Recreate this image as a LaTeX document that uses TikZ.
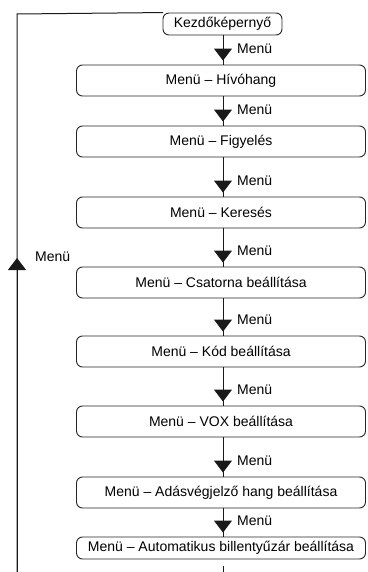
\documentclass[tikz,border=0pt]{standalone}
\usepackage{fontspec}
\setmainfont{Liberation Sans}
\usetikzlibrary{arrows.meta,calc}
\begin{document}
\begin{tikzpicture}[x=1pt,y=-1pt,
  box/.style={draw=black!85,line width=0.9pt,rounded corners=6pt,minimum width=289pt,minimum height=31pt,inner sep=0pt,font=\fontsize{14}{16}\selectfont},
  conn/.style={draw=black!90,line width=1pt},
  tri/.style={-{Triangle[length=12pt,width=18pt]}},
  lbl/.style={anchor=west,inner sep=0pt,font=\fontsize{14}{16}\selectfont}]
\useasboundingbox (0,0) rectangle (367,572);
\coordinate (ax) at (223,0);
\node[box,minimum width=119pt,minimum height=22pt] (k) at (222.5,24) {Kezdőképernyő};
\node[box] (b1) at (221,80.5) {Menü – Hívóhang};
\node[box] (b2) at (221,141.5) {Menü – Figyelés};
\node[box] (b3) at (221,212.5) {Menü – Keresés};
\node[box] (b4) at (221,282.5) {Menü – Csatorna beállítása};
\node[box] (b5) at (221,351.5) {Menü – Kód beállítása};
\node[box] (b6) at (221,421.5) {Menü – VOX beállítása};
\node[box] (b7) at (221,492.5) {Menü – Adásvégjelző hang beállítása};
\node[box,minimum height=22pt] (b8) at (221,548) {Menü – Automatikus billentyűzár beállítása};
\foreach \a/\b in {k/b1,b1/b2,b2/b3,b3/b4,b4/b5,b5/b6,b6/b7,b7/b8}{
  \draw[conn] (\a.south -| ax) -- (\b.north -| ax);
  \draw[conn,tri] (\a.south -| ax) -- ($(\b.north -| ax)+(0,-4)$);
  \node[lbl] at ($(\b.north -| ax)+(14,-16)$) {Menü};
}
\coordinate (bend) at (223,572);
\draw[conn] ($(b8.south -| ax)+(0,7)$) -- (bend);
\coordinate (lb) at (17,572);
\coordinate (lt) at (17,14);
\coordinate (lm) at (17,258);
\draw[conn] (lb) -- (lt) -- (k.north west -| 163,14);
\draw[conn,tri] (lb) -- (lm);
\node[lbl] (ml) at (35,257) {Menü};
\end{tikzpicture}
\end{document}
